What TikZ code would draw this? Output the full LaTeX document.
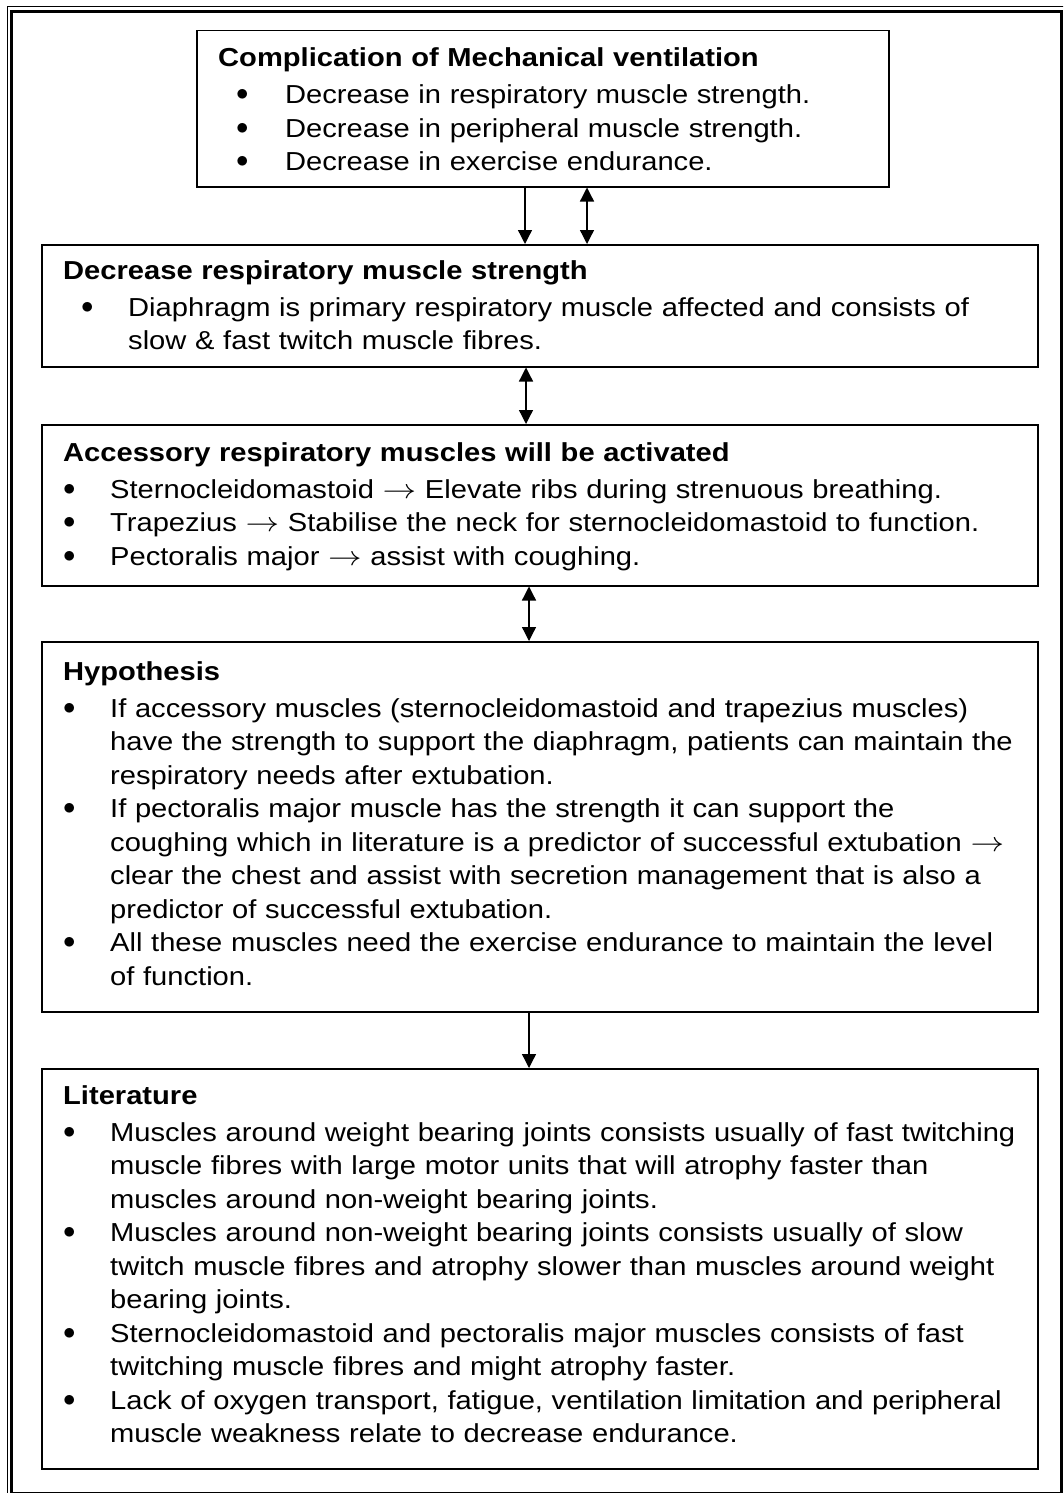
\documentclass[tikz,border=0pt]{standalone}
\usepackage{fontspec}
\setmainfont{Liberation Sans}[FakeStretch=1.12]
\usetikzlibrary{arrows.meta, positioning}

% bullet line: #1 = bullet offset, #2 = text indent
\newcommand{\bul}[2]{\par\hangindent=#2\hangafter=1\noindent\makebox[#2][l]{\hspace{#1}\raisebox{3pt}{$\bullet$}}\ignorespaces}
\newcommand{\head}[1]{\textbf{#1}\par\vspace{3.5pt}}
\newcommand{\arr}{\scalebox{1.35}[1.1]{$\rightarrow$}}

\begin{document}
\begin{tikzpicture}[x=1pt, y=-1pt, >={Triangle[length=14pt, width=14pt]},
    box/.style={draw, line width=1.5pt, inner sep=0pt, anchor=north west},
    txt/.style={anchor=base west, inner sep=0pt, text width=1000pt, align=left,
      font=\fontsize{26}{33.5}\selectfont, execute at begin node={\setlength{\parskip}{0pt}}},
    link/.style={line width=1.3pt}]
    \useasboundingbox (0,0) rectangle (1063,1493);
    \clip (0,0) rectangle (1063,1493);

    % Page frame (thin outer line, thick inner line)
    \draw[line width=1pt] (7,7) rectangle (1070,1500);
    \draw[line width=3.5pt] (11.5,11.5) rectangle (1061.5,1493.5);

    % Boxes
    \node[box, minimum width=692pt, minimum height=156pt] (comp) at (196,30) {};
    \node[box, minimum width=996pt, minimum height=122pt] (resp) at (41,244) {};
    \node[box, minimum width=996pt, minimum height=161pt] (access) at (41,424) {};
    \node[box, minimum width=996pt, minimum height=370pt] (hypo) at (41,641) {};
    \node[box, minimum width=996pt, minimum height=400pt] (lit) at (41,1068) {};

    % Texts
    \node[txt] (comptxt) at ([shift={(22,37)}]comp.north west) {%
      \head{Complication of Mechanical ventilation}
      \bul{18pt}{67pt} Decrease in respiratory muscle strength.
      \bul{18pt}{67pt} Decrease in peripheral muscle strength.
      \bul{18pt}{67pt} Decrease in exercise endurance.\par};

    \node[txt] (resptxt) at ([shift={(22,35)}]resp.north west) {%
      \head{Decrease respiratory muscle strength}
      \bul{18pt}{65pt} Diaphragm is primary respiratory muscle affected and consists of\newline
      slow \& fast twitch muscle fibres.\par};

    \node[txt] (accesstxt) at ([shift={(22,37)}]access.north west) {%
      \head{Accessory respiratory muscles will be activated}
      \bul{0pt}{47pt} Sternocleidomastoid \arr{} Elevate ribs during strenuous breathing.
      \bul{0pt}{47pt} Trapezius \arr{} Stabilise the neck for sternocleidomastoid to function.
      \bul{0pt}{47pt} Pectoralis major \arr{} assist with coughing.\par};

    \node[txt] (hypotxt) at ([shift={(22,39)}]hypo.north west) {%
      \head{Hypothesis}
      \bul{0pt}{47pt} If accessory muscles (sternocleidomastoid and trapezius muscles)\newline
      have the strength to support the diaphragm, patients can maintain the\newline
      respiratory needs after extubation.
      \bul{0pt}{47pt} If pectoralis major muscle has the strength it can support the\newline
      coughing which in literature is a predictor of successful extubation \arr\newline
      clear the chest and assist with secretion management that is also a\newline
      predictor of successful extubation.
      \bul{0pt}{47pt} All these muscles need the exercise endurance to maintain the level\newline
      of function.\par};

    \node[txt] (littxt) at ([shift={(22,36)}]lit.north west) {%
      \head{Literature}
      \bul{0pt}{47pt} Muscles around weight bearing joints consists usually of fast twitching\newline
      muscle fibres with large motor units that will atrophy faster than\newline
      muscles around non-weight bearing joints.
      \bul{0pt}{47pt} Muscles around non-weight bearing joints consists usually of slow\newline
      twitch muscle fibres and atrophy slower than muscles around weight\newline
      bearing joints.
      \bul{0pt}{47pt} Sternocleidomastoid and pectoralis major muscles consists of fast\newline
      twitching muscle fibres and might atrophy faster.
      \bul{0pt}{47pt} Lack of oxygen transport, fatigue, ventilation limitation and peripheral\newline
      muscle weakness relate to decrease endurance.\par};

    % Connectors
    \coordinate (xa) at (525,0);
    \coordinate (xb) at (587,0);
    \coordinate (xc) at (526,0);
    \coordinate (xd) at (529,0);
    \draw[link, ->] (comp.south -| xa) -- (resp.north -| xa);
    \draw[link, <->] (comp.south -| xb) -- (resp.north -| xb);
    \draw[link, <->] (resp.south -| xc) -- (access.north -| xc);
    \draw[link, <->] (access.south -| xd) -- (hypo.north -| xd);
    \draw[link, ->] (hypo.south -| xd) -- (lit.north -| xd);
\end{tikzpicture}
\end{document}
